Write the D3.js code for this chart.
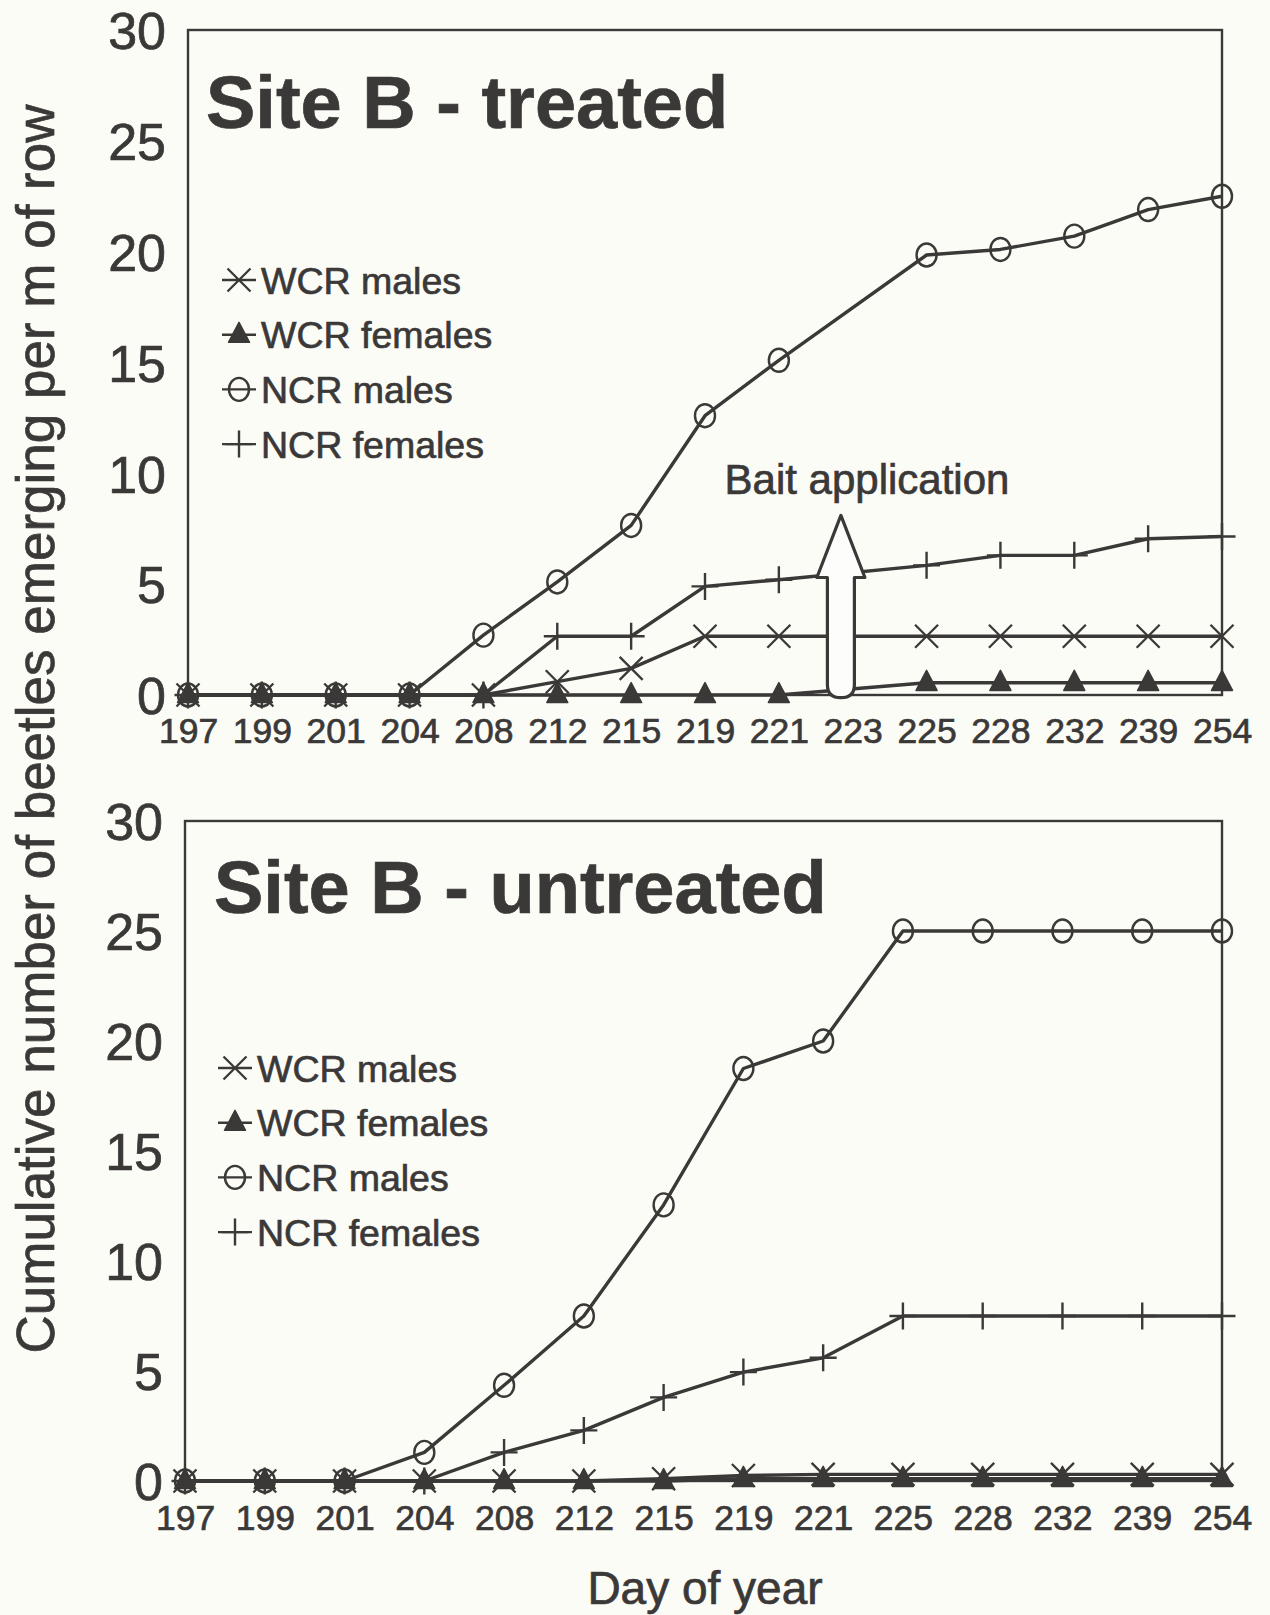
<!DOCTYPE html>
<html><head><meta charset="utf-8">
<script src="https://cdn.jsdelivr.net/npm/d3@7"></script>
<style>
html,body{margin:0;padding:0;background:#fcfcf7;}
svg{display:block;}
text{font-family:"Liberation Sans",Arial,Helvetica,sans-serif;fill:#3b3838;stroke:#3b3838;stroke-width:0.7px;}
</style></head><body>
<svg id="chart" width="1270" height="1615"></svg>
<script>
// ---------- data ----------
const daysTreated   = ["197","199","201","204","208","212","215","219","221","223","225","228","232","239","254"];
const daysUntreated = ["197","199","201","204","208","212","215","219","221","225","228","232","239","254"];
const yTicks = [0, 5, 10, 15, 20, 25, 30];
const seriesNames = ["WCR males", "WCR females", "NCR males", "NCR females"];

const treatedWcrMales     = [0, 0, 0, 0, 0, 0.6, 1.2, 2.65, 2.65, null, 2.65, 2.65, 2.65, 2.65, 2.65];
const treatedWcrFemales   = [0, 0, 0, 0, 0, 0, 0, 0, 0, null, 0.55, 0.55, 0.55, 0.55, 0.55];
const treatedNcrMales     = [0, 0, 0, 0, 2.7, 5.1, 7.65, 12.6, 15.1, null, 19.85, 20.1, 20.7, 21.9, 22.5];
const treatedNcrFemales   = [0, 0, 0, 0, 0, 2.65, 2.65, 4.9, 5.2, null, 5.85, 6.3, 6.3, 7.05, 7.15];

const untreatedWcrMales   = [0, 0, 0, 0, 0, 0, 0.1, 0.25, 0.3, 0.3, 0.3, 0.3, 0.3, 0.3];
const untreatedWcrFemales = [0, 0, 0, 0, 0, 0, 0, 0.1, 0.1, 0.1, 0.1, 0.1, 0.1, 0.1];
const untreatedNcrMales   = [0, 0, 0, 1.3, 4.35, 7.5, 12.55, 18.75, 20.0, 25.0, 25.0, 25.0, 25.0, 25.0];
const untreatedNcrFemales = [0, 0, 0, 0, 1.3, 2.3, 3.8, 4.95, 5.6, 7.5, 7.5, 7.5, 7.5, 7.5];

const baitDay = "223";
const baitLabel = "Bait application";

// ---------- drawing ----------
const INK = "#3b3838";
const svg = d3.select("#chart");
svg.append("rect").attr("width", 1270).attr("height", 1615).attr("fill", "#fcfcf7");

const markerTypes = ["x", "tri", "circle", "plus"];

function drawMarker(g, type, x, y) {
  if (type === "x") {
    const s = 11.5;
    g.append("path").attr("d", `M${x-s},${y-s}L${x+s},${y+s}M${x-s},${y+s}L${x+s},${y-s}`)
      .attr("stroke", INK).attr("stroke-width", 2.3).attr("fill", "none");
  } else if (type === "tri") {
    const w = 10.5, h = 20;
    g.append("path").attr("d", `M${x},${y-h*0.62}L${x+w},${y+h*0.38}L${x-w},${y+h*0.38}Z`)
      .attr("fill", INK).attr("stroke", INK).attr("stroke-width", 1.5).attr("stroke-linejoin", "round");
  } else if (type === "circle") {
    g.append("ellipse").attr("cx", x).attr("cy", y).attr("rx", 10).attr("ry", 11.5)
      .attr("fill", "none").attr("stroke", INK).attr("stroke-width", 2.4);
  } else if (type === "plus") {
    const s = 13.5;
    g.append("path").attr("d", `M${x-s},${y}L${x+s},${y}M${x},${y-s}L${x},${y+s}`)
      .attr("stroke", INK).attr("stroke-width", 2.4).attr("fill", "none");
  }
}

function panel(cfg) {
  const x = d3.scalePoint().domain(cfg.days).range([cfg.left, cfg.right]).padding(0);
  const y = d3.scaleLinear().domain([0, 30]).range([cfg.bottom, cfg.top]);
  const g = svg.append("g");

  // box
  g.append("rect").attr("x", cfg.left).attr("y", cfg.top)
    .attr("width", cfg.right - cfg.left).attr("height", cfg.bottom - cfg.top)
    .attr("fill", "none").attr("stroke", INK).attr("stroke-width", 2.4);

  // axes
  const ya = g.append("g").attr("transform", `translate(${cfg.left},0)`)
    .call(d3.axisLeft(y).tickValues(yTicks).tickSize(0).tickPadding(22).tickFormat(d3.format("d")));
  ya.select(".domain").remove();
  ya.selectAll("text").style("font-size", "52px").attr("fill", INK).attr("dy", "0.36em");

  const xa = g.append("g").attr("transform", `translate(0,${cfg.bottom})`)
    .call(d3.axisBottom(x).tickSize(0).tickPadding(cfg.xPad));
  xa.select(".domain").remove();
  xa.selectAll("text").style("font-size", "35.5px").attr("fill", INK);

  // lines
  const line = d3.line().x(d => x(d.day)).y(d => y(d.v));
  const seriesPts = cfg.series.map(vals =>
    cfg.days.map((day, i) => ({day, v: vals[i]})).filter(d => d.v !== null));
  seriesPts.forEach(pts => {
    g.append("path").attr("d", line(pts)).attr("fill", "none")
      .attr("stroke", INK).attr("stroke-width", 3.4).attr("stroke-linejoin", "round");
  });

  // annotation (drawn over lines, under markers)
  if (cfg.bait) {
    const i = cfg.days.indexOf(baitDay);
    const cx = x(cfg.days[i - 1]) + 0.84 * (x(baitDay) - x(cfg.days[i - 1]));
    const tipY = y(8.1), headY = y(5.3), botY = y(-0.12);
    const hw = 13.5, hh = 24, r = 13;
    g.append("path")
      .attr("d", `M${cx-hw},${headY}L${cx-hh},${headY}L${cx},${tipY}L${cx+hh},${headY}L${cx+hw},${headY}` +
                 `L${cx+hw},${botY-r}Q${cx+hw},${botY} ${cx},${botY}Q${cx-hw},${botY} ${cx-hw},${botY-r}Z`)
      .attr("fill", "#fdfdfb").attr("stroke", INK).attr("stroke-width", 3.2).attr("stroke-linejoin", "round");
    g.append("text").attr("x", 867).attr("y", y(9.08)).attr("text-anchor", "middle")
      .style("font-size", "42px").text(baitLabel);
  }

  // markers
  seriesPts.forEach((pts, si) => {
    pts.forEach(d => drawMarker(g, markerTypes[si], x(d.day), y(d.v)));
  });

  // title
  g.append("text").attr("x", cfg.titleX).attr("y", cfg.titleY)
    .style("font-size", "74px").style("font-weight", "bold").text(cfg.title);

  // legend
  seriesNames.forEach((name, i) => {
    const ly = cfg.legendY + i * 54.7;
    const mx = cfg.legendX;
    g.append("line").attr("x1", mx - 17).attr("x2", mx + 17).attr("y1", ly).attr("y2", ly)
      .attr("stroke", INK).attr("stroke-width", 2.4);
    drawMarker(g, markerTypes[i], mx, ly);
    g.append("text").attr("x", mx + 22).attr("y", ly).attr("dy", "0.36em")
      .style("font-size", "37.5px").text(name);
  });
}

panel({
  days: daysTreated, left: 188, right: 1222, top: 30, bottom: 695, xPad: 23,
  series: [treatedWcrMales, treatedWcrFemales, treatedNcrMales, treatedNcrFemales],
  title: "Site B - treated", titleX: 206, titleY: 128,
  legendX: 239, legendY: 280, bait: true
});

panel({
  days: daysUntreated, left: 185, right: 1222, top: 821, bottom: 1481, xPad: 24,
  series: [untreatedWcrMales, untreatedWcrFemales, untreatedNcrMales, untreatedNcrFemales],
  title: "Site B - untreated", titleX: 214, titleY: 913,
  legendX: 235, legendY: 1068, bait: false
});

// axis titles
svg.append("text").attr("transform", "translate(54,729) rotate(-90)")
  .attr("text-anchor", "middle").style("font-size", "53px")
  .text("Cumulative number of beetles emerging per m of row");
svg.append("text").attr("x", 705).attr("y", 1604).attr("text-anchor", "middle")
  .style("font-size", "46px").text("Day of year");
</script>
</body></html>
